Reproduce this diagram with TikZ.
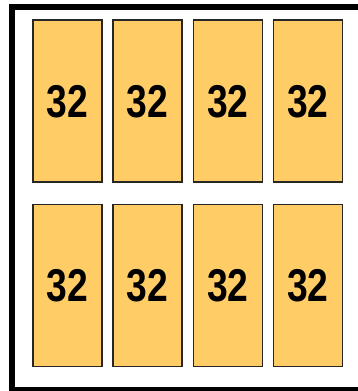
\documentclass[tikz,border=0pt]{standalone}
\usepackage{fontspec}
\setmainfont{Liberation Sans}
\newfontfamily\cellfont[FakeStretch=0.81]{Liberation Sans}
\definecolor{cellfill}{HTML}{FFCC66}
\tikzset{
  every picture/.style={x=1pt, y=-1pt},
  frame/.style={draw=black, line width=6pt},
  cell/.style={draw=black!85, fill=cellfill, line width=1.6pt, minimum width=69pt, minimum height=162pt, inner sep=0pt, font=\cellfont\fontsize{46}{46}\selectfont\bfseries},
}
\begin{document}
\begin{tikzpicture}
  \useasboundingbox (0,0) rectangle (358,391);
  \clip (0,0) rectangle (358,391);
  \draw[frame] (12.3,7.2) rectangle (380,390);
  \foreach \col in {0,1,2,3} {
    \node[cell] (top\col) at (67.4+80.2*\col,101.2) {32};
    \node[cell] (bot\col) at (67.4+80.2*\col,285.6) {32};
  }
\end{tikzpicture}
\end{document}
